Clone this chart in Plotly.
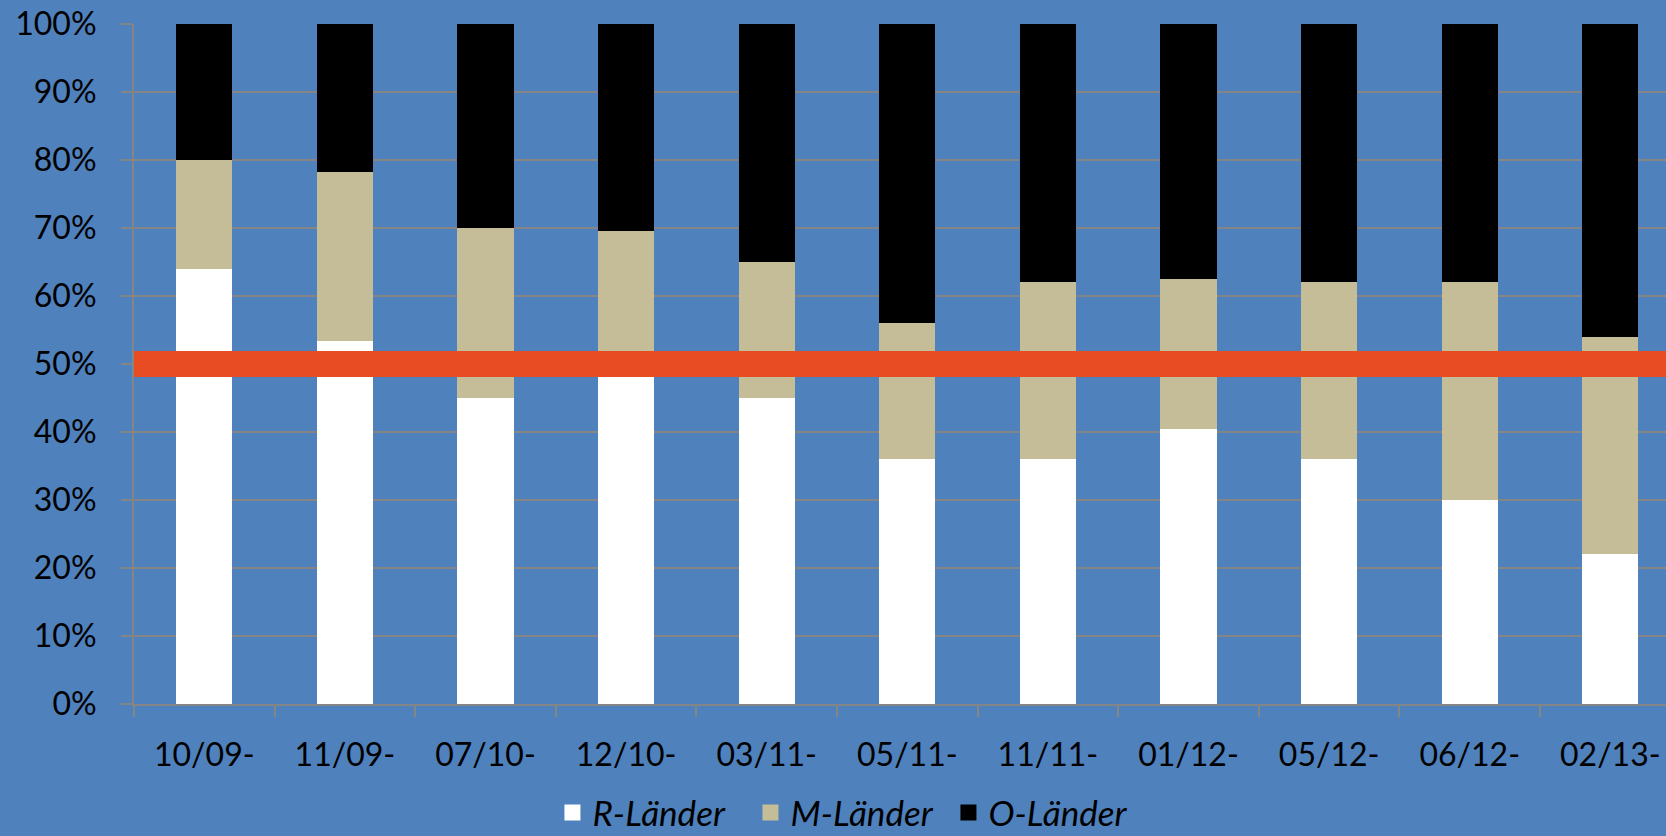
import plotly.graph_objects as go

categories = ["10/09-", "11/09-", "07/10-", "12/10-", "03/11-", "05/11-",
              "11/11-", "01/12-", "05/12-", "06/12-", "02/13-"]
r_laender = [0.640, 0.534, 0.450, 0.500, 0.450, 0.360, 0.360, 0.405, 0.360, 0.300, 0.220]
m_laender = [0.160, 0.248, 0.250, 0.196, 0.200, 0.200, 0.260, 0.220, 0.260, 0.320, 0.320]
o_laender = [0.200, 0.218, 0.300, 0.304, 0.350, 0.440, 0.380, 0.375, 0.380, 0.380, 0.460]
series_names = ["R-Länder", "M-Länder", "O-Länder"]
series_colors = ["#FFFFFF", "#C4BD97", "#000000"]
threshold = 0.5

BG = "#4F81BD"
GRID = "#858585"
FONT = "Lato"

fig = go.Figure()
for name, vals, col in zip(series_names, [r_laender, m_laender, o_laender], series_colors):
    fig.add_trace(go.Bar(x=categories, y=vals, name=name, marker_color=col,
                         marker_line_width=0, width=0.4, showlegend=False))
for name, col in zip(series_names, series_colors):
    fig.add_trace(go.Scatter(x=[None], y=[None], mode="markers", name=name,
                             marker=dict(symbol="square", size=20, color=col,
                                         line=dict(width=0))))

fig.add_shape(type="line", xref="paper", x0=0, x1=1, yref="y", y0=threshold, y1=threshold,
              line=dict(color="#E84C22", width=26), layer="above")

fig.update_layout(
    width=1666, height=836,
    barmode="stack",
    paper_bgcolor=BG, plot_bgcolor=BG,
    margin=dict(l=134, r=0, t=24, b=132, autoexpand=False),
    font=dict(family=FONT, size=32, color="#000000"),
    showlegend=True,
    legend=dict(orientation="h", xref="paper", x=0.467, xanchor="center",
                yref="paper", y=-0.160, yanchor="middle",
                font=dict(family=FONT, size=35, color="#000000", style="italic"),
                bgcolor="rgba(0,0,0,0)", itemwidth=30, traceorder="normal",
                entrywidth=153, entrywidthmode="pixels"),
    xaxis=dict(type="category", range=[-0.5, 10.396], showgrid=False,
               showline=True, linecolor=GRID, linewidth=2,
               ticks="outside", tickson="boundaries", ticklen=11, tickwidth=2,
               tickcolor=GRID, ticklabelstandoff=22),
    yaxis=dict(range=[0, 1], dtick=0.1, tickformat=".0%", showgrid=True,
               gridcolor=GRID, gridwidth=2, zeroline=False,
               showline=True, linecolor=GRID, linewidth=2,
               ticks="outside", ticklen=11, tickwidth=2, tickcolor=GRID,
               ticklabelstandoff=18),
)

fig.write_html("out.html", config={"displayModeBar": False},
               post_script="document.body.style.margin='0';document.body.style.background='#4F81BD';")
